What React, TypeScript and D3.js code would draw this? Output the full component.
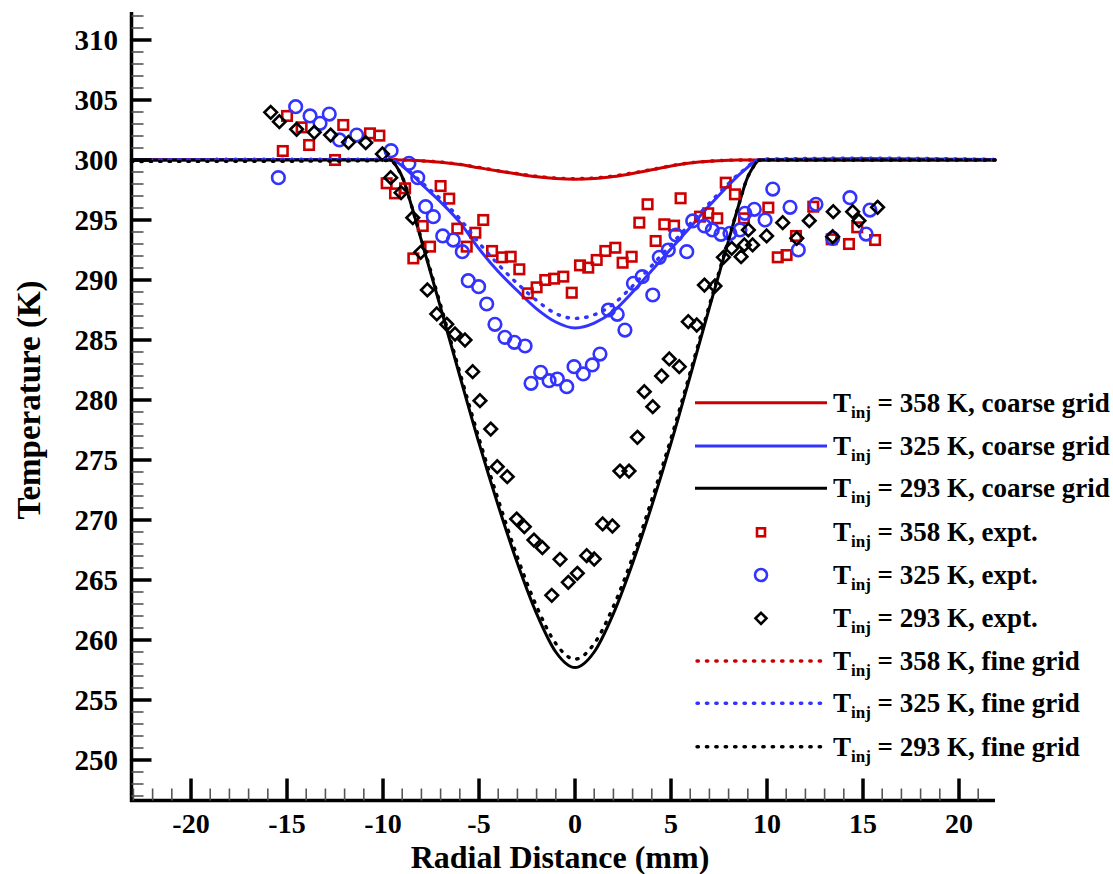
import React from "react";
import * as d3 from "d3";

// ---- curve data (Radial Distance mm, Temperature K) ----
const curveX = [-23.1, -15, -10, -9.6, -9.4, -9.2, -9, -8.5, -8, -7, -6, -5, -4, -3, -2, -1, 0, 1, 2, 3, 4, 5, 6, 7, 8, 8.5, 9, 9.2, 9.4, 9.6, 10, 15, 21.9];

const red358Coarse = [300, 300.05, 300.05, 300.03, 300.02, 300.01, 300.0, 299.97, 299.93, 299.82, 299.62, 299.35, 299.08, 298.83, 298.6, 298.45, 298.4, 298.45, 298.62, 298.88, 299.18, 299.5, 299.75, 299.9, 299.98, 300.0, 300.0, 300.0, 300.0, 300.0, 300.0, 300.0, 300.0];
const red358Fine = [300, 300.05, 300.05, 300.03, 300.02, 300.01, 300.0, 299.97, 299.93, 299.83, 299.64, 299.38, 299.1, 298.86, 298.64, 298.5, 298.45, 298.5, 298.66, 298.92, 299.2, 299.52, 299.76, 299.9, 299.98, 300.0, 300.0, 300.0, 300.0, 300.0, 300.0, 300.0, 300.0];
const blue325Coarse = [300, 300.05, 300.05, 299.98, 299.9, 299.75, 299.5, 298.8, 298.0, 296.5, 294.8, 292.6, 290.7, 289.1, 287.6, 286.5, 286.0, 286.4, 287.4, 289.0, 290.8, 292.6, 294.4, 296.2, 297.9, 298.7, 299.4, 299.7, 299.9, 300.0, 300.05, 300.12, 300.05];
const blue325Fine = [300, 300.05, 300.05, 299.98, 299.9, 299.78, 299.55, 298.9, 298.15, 296.75, 295.1, 293.1, 291.3, 289.7, 288.3, 287.2, 286.8, 287.1, 288.0, 289.5, 291.2, 292.95, 294.7, 296.4, 298.05, 298.8, 299.45, 299.75, 299.92, 300.02, 300.08, 300.15, 300.05];
const black293Coarse = [300, 300, 300, 300, 299.7, 299.2, 298.6, 296.1, 293.3, 287.7, 282.0, 276.4, 271.2, 266.4, 262.2, 259.0, 257.7, 259.0, 262.2, 266.4, 271.2, 276.4, 282.0, 287.7, 293.3, 296.1, 298.6, 299.2, 299.7, 300, 300, 300, 300];
const black293Fine = [299.88, 299.9, 299.95, 299.96, 299.7, 299.2, 298.6, 296.1, 293.4, 287.9, 282.3, 276.8, 271.7, 266.9, 262.8, 259.7, 258.4, 259.7, 262.8, 266.9, 271.7, 276.8, 282.3, 287.9, 293.4, 296.1, 298.6, 299.2, 299.7, 299.98, 300, 300, 300];

// ---- experimental data ----
const red358ExptX = [-15.22, -15.0, -14.24, -13.85, -12.5, -12.07, -10.68, -10.19, -9.81, -9.375, -8.85, -8.42, -7.93, -7.55, -7.0, -6.55, -6.13, -5.64, -5.19, -4.78, -4.32, -3.8, -3.35, -2.9, -2.46, -2.0, -1.55, -1.09, -0.61, -0.17, 0.26, 0.69, 1.13, 1.58, 2.1, 2.48, 2.95, 3.35, 3.78, 4.2, 4.65, 5.16, 5.5, 6.51, 6.94, 7.41, 7.85, 8.33, 8.8, 10.07, 10.56, 11.02, 11.51, 12.41, 13.37, 14.27, 14.7, 15.63];
const red358ExptY = [300.75, 303.67, 302.72, 301.25, 300.0, 302.92, 302.22, 302.03, 298.06, 297.22, 297.64, 291.8, 294.5, 292.78, 297.83, 296.78, 294.28, 292.78, 293.94, 295.0, 292.42, 291.89, 291.94, 290.89, 288.89, 289.39, 290.0, 290.11, 290.28, 288.94, 291.22, 291.03, 291.67, 292.42, 292.69, 291.44, 291.94, 294.78, 296.31, 293.25, 294.64, 294.53, 296.81, 295.28, 295.56, 295.14, 298.11, 297.14, 295.14, 296.03, 291.89, 292.08, 293.67, 296.11, 293.39, 293.0, 294.39, 293.33];

const blue325ExptX = [-15.45, -14.55, -13.8, -13.28, -12.8, -12.27, -11.37, -9.58, -8.65, -8.19, -7.78, -7.38, -6.89, -6.34, -5.87, -5.56, -5.02, -4.6, -4.17, -3.65, -3.16, -2.6, -2.29, -1.79, -1.35, -0.92, -0.43, -0.05, 0.43, 0.9, 1.3, 1.74, 2.2, 2.6, 3.04, 3.5, 4.05, 4.39, 4.86, 5.26, 5.82, 6.13, 6.74, 7.15, 7.6, 8.07, 8.59, 8.85, 9.34, 9.9, 10.3, 11.2, 11.63, 12.55, 13.42, 14.32, 15.16, 15.36];
const blue325ExptY = [298.53, 304.44, 303.67, 303.06, 303.83, 301.67, 302.08, 300.78, 299.72, 298.53, 296.11, 295.28, 293.67, 293.33, 292.36, 289.94, 289.44, 288.0, 286.31, 285.22, 284.81, 284.5, 281.39, 282.31, 281.61, 281.75, 281.11, 282.78, 282.17, 282.92, 283.83, 287.5, 287.14, 285.83, 289.72, 290.28, 288.75, 291.89, 292.5, 293.75, 292.36, 294.92, 294.5, 294.17, 293.81, 293.89, 294.17, 295.56, 295.89, 295.0, 297.58, 296.06, 292.5, 296.31, 293.47, 296.86, 293.83, 295.83];

const black293ExptX = [-15.85, -15.4, -14.5, -13.58, -12.73, -11.8, -10.9, -10.03, -9.6, -9.06, -8.45, -8.04, -7.69, -7.2, -6.68, -6.25, -5.73, -5.33, -4.95, -4.39, -4.05, -3.53, -3.04, -2.64, -2.14, -1.7, -1.21, -0.78, -0.35, 0.12, 0.61, 1.0, 1.44, 1.95, 2.34, 2.81, 3.25, 3.61, 4.05, 4.51, 4.91, 5.43, 5.9, 6.34, 6.74, 7.29, 7.73, 8.16, 8.65, 8.82, 9.03, 9.25, 9.98, 10.82, 11.55, 12.2, 13.42, 13.45, 14.46, 14.79, 15.76];
const black293ExptY = [303.97, 303.19, 302.56, 302.31, 302.08, 301.47, 301.44, 300.5, 298.53, 297.28, 295.19, 292.31, 289.17, 287.17, 286.31, 285.5, 285.0, 282.36, 279.94, 277.58, 274.44, 273.61, 270.08, 269.44, 268.33, 267.69, 263.72, 266.72, 264.81, 265.56, 267.03, 266.75, 269.67, 269.5, 274.08, 274.08, 276.89, 280.69, 279.44, 282.0, 283.42, 282.78, 286.53, 286.25, 289.58, 289.5, 291.89, 292.64, 291.94, 292.92, 294.17, 292.92, 293.67, 294.78, 293.47, 294.94, 293.61, 295.69, 295.69, 294.94, 296.06];

// ---- ticks & labels ----
const xMajorTicks = [-20, -15, -10, -5, 0, 5, 10, 15, 20];
const yMajorTicks = [250, 255, 260, 265, 270, 275, 280, 285, 290, 295, 300, 305, 310];
const legendTemps = ["358", "325", "293", "358", "325", "293", "358", "325", "293"];
const legendSuffix = ["coarse grid", "coarse grid", "coarse grid", "expt.", "expt.", "expt.", "fine grid", "fine grid", "fine grid"];

const RED = "#cc0000";
const BLUE = "#3333ff";
const BLACK = "#000000";
const FONT = "'Liberation Serif', 'Times New Roman', serif";

export default function App() {
  const W = 1113, H = 874;
  const x = d3.scaleLinear().domain([-23.1, 21.875]).range([131.5, 995]);
  const y = d3.scaleLinear().domain([246.625, 312.333]).range([800.5, 12]);

  const line = d3
    .line<[number, number]>()
    .x((d) => x(d[0]))
    .y((d) => y(d[1]))
    .curve(d3.curveMonotoneX);
  const path = (vals: number[]) => line(curveX.map((cx, i) => [cx, vals[i]] as [number, number])) || "";

  const xMinor = d3.range(-23, 22, 1).filter((v) => v % 5 !== 0);
  const yMinor = d3.range(247, 313, 1).filter((v) => v % 5 !== 0);

  const axisX0 = x.range()[0];
  const axisY0 = y.range()[0];

  const squareAt = (cx: number, cy: number, s: number, key: string) => (
    <rect key={key} x={cx - s / 2} y={cy - s / 2} width={s} height={s} fill="none" stroke={RED} strokeWidth={2.6} />
  );
  const circleAt = (cx: number, cy: number, r: number, key: string) => (
    <circle key={key} cx={cx} cy={cy} r={r} fill="none" stroke={BLUE} strokeWidth={2.6} />
  );
  const diamondAt = (cx: number, cy: number, r: number, key: string) => (
    <path key={key} d={`M${cx},${cy - r}L${cx + r},${cy}L${cx},${cy + r}L${cx - r},${cy}Z`} fill="none" stroke={BLACK} strokeWidth={2.6} />
  );

  const dotted = { strokeWidth: 3.4, strokeDasharray: "1.4 8", strokeLinecap: "round" as const };

  const legendY = [402.7, 446, 488.3, 532.3, 575, 618.3, 661, 703.3, 746.7];
  const legendColors = [RED, BLUE, BLACK, RED, BLUE, BLACK, RED, BLUE, BLACK];

  return (
    <svg width={W} height={H} style={{ position: "absolute", left: 0, top: 0, background: "#fff" }} fontFamily={FONT}>
      <rect x={0} y={0} width={W} height={H} fill="#fff" />

      {/* coarse grid lines */}
      <path d={path(red358Coarse)} fill="none" stroke={RED} strokeWidth={3} />
      <path d={path(blue325Coarse)} fill="none" stroke={BLUE} strokeWidth={3} />
      <path d={path(black293Coarse)} fill="none" stroke={BLACK} strokeWidth={3} />

      {/* experimental */}
      {red358ExptX.map((vx, i) => squareAt(x(vx), y(red358ExptY[i]), 9.5, `r${i}`))}
      {blue325ExptX.map((vx, i) => circleAt(x(vx), y(blue325ExptY[i]), 6.3, `b${i}`))}
      {black293ExptX.map((vx, i) => diamondAt(x(vx), y(black293ExptY[i]), 6.3, `k${i}`))}

      {/* fine grid lines */}
      <path d={path(red358Fine)} fill="none" stroke={RED} {...dotted} />
      <path d={path(blue325Fine)} fill="none" stroke={BLUE} {...dotted} />
      <path d={path(black293Fine)} fill="none" stroke={BLACK} {...dotted} />

      {/* axes */}
      <line x1={axisX0} x2={axisX0} y1={12} y2={axisY0 + 1.5} stroke="#000" strokeWidth={3.5} />
      <line x1={axisX0 - 1.5} x2={995} y1={axisY0} y2={axisY0} stroke="#000" strokeWidth={3.5} />

      {yMinor.map((v) => (
        <line key={`ym${v}`} x1={axisX0} x2={axisX0 + 12} y1={y(v)} y2={y(v)} stroke="#555" strokeWidth={1.6} />
      ))}
      {yMajorTicks.map((v) => (
        <g key={`yM${v}`}>
          <line x1={axisX0} x2={axisX0 + 20} y1={y(v)} y2={y(v)} stroke="#000" strokeWidth={3.5} />
          <text x={118} y={y(v) + 10} textAnchor="end" fontSize={29} fontWeight="bold">
            {v}
          </text>
        </g>
      ))}
      {xMinor.map((v) => (
        <line key={`xm${v}`} x1={x(v)} x2={x(v)} y1={axisY0} y2={axisY0 - 12} stroke="#555" strokeWidth={1.6} />
      ))}
      {xMajorTicks.map((v) => (
        <g key={`xM${v}`}>
          <line x1={x(v)} x2={x(v)} y1={axisY0} y2={axisY0 - 22} stroke="#000" strokeWidth={3.5} />
          <text x={x(v)} y={833} textAnchor="middle" fontSize={28} fontWeight="bold">
            {v}
          </text>
        </g>
      ))}

      <text x={560} y={868} textAnchor="middle" fontSize={32} fontWeight="bold">
        Radial Distance (mm)
      </text>
      <text transform="translate(40,400) rotate(-90)" textAnchor="middle" fontSize={33} fontWeight="bold">
        Temperature (K)
      </text>

      {/* legend */}
      {legendY.map((ly, i) => {
        const c = legendColors[i];
        let sym: React.ReactNode;
        if (i < 3) sym = <line x1={695} x2={827} y1={ly} y2={ly} stroke={c} strokeWidth={3} />;
        else if (i >= 6) sym = <line x1={697} x2={827} y1={ly} y2={ly} stroke={c} {...dotted} />;
        else if (i === 3) sym = squareAt(761, ly, 8, "ls");
        else if (i === 4) sym = circleAt(761, ly, 6, "lc");
        else sym = diamondAt(761, ly, 5.5, "ld");
        return (
          <g key={`lg${i}`}>
            {sym}
            <text x={833} y={ly + 9} fontSize={27} fontWeight="bold">
              <tspan>T</tspan>
              <tspan dy={6} fontSize={17}>inj</tspan>
              <tspan dy={-6}>{` = ${legendTemps[i]} K, ${legendSuffix[i]}`}</tspan>
            </text>
          </g>
        );
      })}
    </svg>
  );
}
